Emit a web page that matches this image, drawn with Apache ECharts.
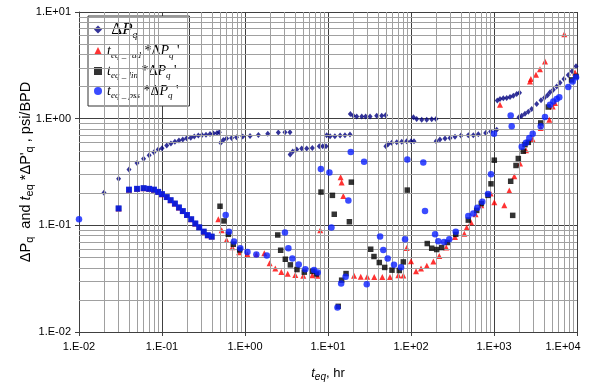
<!DOCTYPE html>
<html><head><meta charset="utf-8">
<script src="https://cdn.jsdelivr.net/npm/echarts@6/dist/echarts.min.js"></script>
<style>html,body{margin:0;padding:0;background:#fff}#c{width:595px;height:387px}</style>
</head><body><div id="c"></div>
<script>
// ---- data (t_eq in hr, value in psi/BPD) ----
const seriesNames = ['dPq', 'rad', 'lin', 'pss'];

const dPq = [
 [0.02,0.202],[0.03,0.273],[0.04,0.334],[0.05,0.385],[0.06,0.42],[0.07,0.454],[0.08,0.484],[0.09,0.513],[0.1,0.528],[0.114,0.56],[0.128,0.584],[0.143,0.606],[0.16,0.623],[0.178,0.637],[0.198,0.655],[0.222,0.664],[0.245,0.679],[0.274,0.694],[0.303,0.704],[0.339,0.708],[0.379,0.719],[0.417,0.727],[0.46,0.735],[0.49,0.745],
 [0.51,0.593],[0.548,0.63],[0.6,0.65],[0.69,0.66],[0.79,0.671],[0.94,0.679],[1.15,0.689],[1.45,0.704],[1.88,0.724],[2.52,0.74],[3.03,0.745],[3.48,0.745],
 [3.5,0.461],[3.76,0.492],[4.2,0.513],[4.82,0.524],[5.54,0.524],[6.47,0.532],[7.85,0.551],[8.63,0.551],[9.46,0.551],
 [9.64,0.698],[10.6,0.683],[12.1,0.683],[14.0,0.694],[16.0,0.698],[18.4,0.709],
 [18.6,1.106],[20.2,1.067],[22.2,1.05],[25.5,1.05],[28.4,1.05],[32.1,1.05],[38.6,1.067],[44.4,1.067],[49.5,1.074],
 [49.8,0.551],[53.3,0.58],[58.5,0.593],[67.3,0.60],[77.3,0.606],[88.7,0.614],[100,0.614],[108.7,0.614],
 [107,1.03],[117,0.994],[134.6,0.979],[154.6,0.979],[177.6,0.985],[200,0.994],
 [201,0.614],[223,0.637],[257,0.65],[295,0.66],[339,0.675],[400,0.694],[490,0.698],[563,0.698],[647,0.713],[794,0.735],[912,0.76],[1079,0.789],
 [1096,1.48],[1181,1.53],[1295,1.55],[1422,1.56],[1560,1.6],[1710,1.64],[1877,1.70],[2030,1.75],
 [2000,1.03],[2158,1.067],[2362,1.11],[2589,1.16],[2845,1.23],[3267,1.37],[3683,1.49],[4057,1.57],[4416,1.66],[4730,1.77],[5180,1.87],[5690,2.0],[6240,2.17],[6970,2.36],[7850,2.56],[8710,2.78],[9730,3.1]
];

// early-time points shared by the three derivative series
const earlyPts = [
 [0.03,0.144],[0.04,0.216],[0.05,0.22],[0.06,0.223],[0.07,0.22],[0.08,0.216],[0.09,0.206],[0.1,0.196],[0.114,0.184],[0.127,0.172],[0.143,0.16],[0.16,0.147],[0.178,0.136],[0.2,0.125],[0.225,0.114],[0.252,0.104],[0.281,0.0958],[0.318,0.0873],[0.356,0.0807],[0.397,0.0784]
];

const radPts = [
 [0.477,0.114],[0.524,0.0898],[0.6,0.073],[0.703,0.0623],[0.85,0.056],[1.07,0.0536],[1.37,0.053],[1.71,0.0547],[1.98,0.0442],[2.32,0.0394],[2.74,0.0366],[3.27,0.0351],[4.04,0.0343],[5.04,0.0336],[6.47,0.034],[7.43,0.0336],
 [8.07,0.0898],[14.2,0.283],[14.6,0.252],[15.3,0.188],
 [20.6,0.0336],[24.8,0.033],[29.7,0.033],[36.1,0.0327],[45.1,0.0328],[55.8,0.0328],[70.3,0.034],[80.8,0.0339],[88.7,0.0614],[100,0.0461],[115,0.0372],[132,0.0394],[155,0.0417],[186,0.0457],[219,0.0517],[266,0.0619],[339,0.0778],[439,0.0836],[469,0.0952],[528,0.107],[600,0.127],[703,0.154],[912,0.199],[1008,0.165],[1181,1.35],[1331,0.154],[1528,0.212],[1756,0.289],[2057,0.380],[2430,0.505],[2716,2.23],[2780,2.35],[2926,0.637],[3208,2.58],[3580,2.91],[3655,0.818],[4113,3.43],[4636,0.979],[5093,1.30],[5433,1.40],[7030,6.19],[9480,2.71]
];

const linPts = [
 [0.5,0.151],[0.558,0.110],[0.63,0.0824],[0.723,0.0665],[0.863,0.0588],
 [2.48,0.0812],[2.69,0.0584],[3.06,0.0481],[3.52,0.0426],[4.23,0.0385],[5.18,0.0364],[6.54,0.037],[7.3,0.035],
 [8.24,0.205],[11.3,0.191],[11.9,0.127],[13.3,0.0174],[14.6,0.0306],[16.5,0.0353],[18.1,0.108],[19.1,0.254],
 [32.7,0.0597],[35.8,0.051],[41.5,0.0448],[48.2,0.0403],[59.0,0.038],[72.3,0.0377],[80.8,0.0454],[90.2,0.214],
 [157,0.0675],[177.6,0.061],[204,0.0593],[234,0.0619],[274,0.069],[346,0.0824],[490,0.112],[619,0.138],[703,0.160],[847,0.191],[920,0.245],[1008,0.408],[1589,0.259],[1680,0.124],[1841,0.364],[1963,0.423],[2254,0.495],[2362,0.571],[2590,0.60],[3655,0.912],[4510,1.286],[8600,2.31],[9730,2.49]
];

const pssPts = [
 [0.01,0.114],
 [0.585,0.125],[0.641,0.0873],[0.737,0.0705],[0.878,0.061],[1.07,0.0563],[1.37,0.0532],[1.83,0.0521],
 [3.03,0.0855],[3.33,0.061],[3.72,0.0489],[4.44,0.043],[5.33,0.0387],[6.78,0.0382],[7.51,0.0361],
 [8.2,0.338],[10.4,0.313],[11.0,0.0952],[13.0,0.017],[14.4,0.0285],[16.3,0.033],[17.6,0.171],[18.8,0.488],[27.2,0.394],[29.3,0.0281],[42.4,0.0784],[46.4,0.0588],[52.4,0.0489],[62.4,0.0426],[75.8,0.0405],[84.7,0.074],[90.2,0.414],[140.6,0.388],[147.5,0.136],
 [195,0.0824],[213,0.0709],[250,0.0698],[289,0.074],[346,0.0873],[490,0.122],[563,0.129],[629,0.146],[723,0.166],[847,0.197],[920,0.302],[1000,0.724],[1589,1.07],[1634,0.847],[2157,0.544],[2430,0.593],[2663,0.66],[2926,0.724],[3655,0.847],[4113,1.037],[4730,1.35],[5180,1.45],[5690,1.53],[6120,1.59],[7850,1.98],[8870,2.23],[9730,2.45]
];

const xDecades = [-2, -1, 0, 1, 2, 3, 4];
const yDecades = [-2, -1, 0, 1];

// ---- build ----
function expLabel(v) {
  const e = Math.round(Math.log10(v));
  return '1.E' + (e < 0 ? '-' : '+') + String(Math.abs(e)).padStart(2, '0');
}
function minorVals(decs) {
  const out = [];
  for (let i = 0; i < decs.length - 1; i++)
    for (let m = 2; m <= 9; m++) out.push(+(m * Math.pow(10, decs[i])).toPrecision(3));
  return out;
}
const serif = '"Liberation Serif","Times New Roman",serif';
const sans = '"Liberation Sans",Arial,sans-serif';
const legRich = {
  n: {fontFamily: serif, fontSize: 14, color: '#000'},
  i: {fontFamily: serif, fontSize: 14, fontStyle: 'italic', color: '#000'},
  s: {fontFamily: serif, fontSize: 9, fontStyle: 'italic', color: '#000', padding: [9, 0, 0, 0]},
  b: {fontFamily: serif, fontSize: 17, fontStyle: 'italic', color: '#000'},
  bn: {fontFamily: serif, fontSize: 17, color: '#000'},
  bs: {fontFamily: serif, fontSize: 10, fontStyle: 'italic', color: '#000', padding: [11, 0, 0, 0]}
};
const legendText = {
  dPq: '{bn| Δ}{b|P}{bs|q}',
  rad: '{i|t}{s|eq _ rad}{n| *Δ}{i|P}{s|q}{n| \'}',
  lin: '{i|t}{s|eq _ lin}{n| *Δ}{i|P}{s|q}{n| \'}',
  pss: '{i|t}{s|eq _ pss}{n| *Δ}{i|P}{s|q}{n| \'}'
};

const chart = echarts.init(document.getElementById('c'), null, {renderer: 'canvas'});
const toItems = (arr) => arr.map(p => ({value: p}));
chart.setOption({
  animation: false,
  backgroundColor: '#fff',
  grid: {left: 79, right: 18, top: 12, bottom: 54},
  legend: {
    orient: 'vertical', left: 88, top: 16,
    padding: [5, 10, 6, 6], itemGap: 4, itemWidth: 8, itemHeight: 8,
    backgroundColor: '#fff', borderColor: '#333', borderWidth: 1,
    data: seriesNames,
    formatter: name => legendText[name],
    textStyle: {rich: legRich}
  },
  xAxis: {
    type: 'log', logBase: 10, min: 0.01, max: 10000, splitNumber: 6,
    axisLine: {show: true, lineStyle: {color: '#404040', width: 1}},
    axisTick: {show: true, length: 4, lineStyle: {color: '#404040'}},
    axisLabel: {
      color: '#000', fontFamily: sans, fontSize: 11, margin: 9,
      formatter: v => (Math.round(Math.log10(v)) === xDecades[xDecades.length - 1]) ? '{r|' + expLabel(v) + '}' : expLabel(v),
      rich: {r: {color: '#000', fontFamily: sans, fontSize: 11, padding: [0, 28, 0, 0]}}
    },
    splitLine: {show: true, lineStyle: {color: '#404040', width: 1}},
    name: '{i|t}{s|eq}{n|, hr}', nameLocation: 'middle', nameGap: 32, nameMoveOverlap: false,
    nameTextStyle: {rich: {
      i: {fontFamily: sans, fontSize: 13, fontStyle: 'italic', color: '#000'},
      s: {fontFamily: sans, fontSize: 10, fontStyle: 'italic', color: '#000', padding: [8, 0, 0, 0]},
      n: {fontFamily: sans, fontSize: 13, color: '#000'}
    }}
  },
  yAxis: {
    type: 'log', logBase: 10, min: 0.01, max: 10, splitNumber: 3,
    axisLine: {show: true, lineStyle: {color: '#404040', width: 1}},
    axisTick: {show: true, length: 4, lineStyle: {color: '#404040'}},
    axisLabel: {color: '#000', fontFamily: sans, fontSize: 11, margin: 8, formatter: expLabel},
    splitLine: {show: true, lineStyle: {color: '#404040', width: 1}},
    name: '{n|ΔP}{s|q}{n|  and }{i|t}{s|eq}{n| *ΔP\'}{s|q}{n| , psi/BPD}',
    nameLocation: 'middle', nameGap: 44, nameRotate: 90, nameMoveOverlap: false,
    nameTextStyle: {rich: {
      i: {fontFamily: sans, fontSize: 14.5, fontStyle: 'italic', color: '#000'},
      s: {fontFamily: sans, fontSize: 11, color: '#000', padding: [8, 0, 0, 0]},
      n: {fontFamily: sans, fontSize: 14.5, color: '#000'}
    }}
  },
  series: [
    {
      type: 'scatter', name: 'minor', data: [], z: 1, silent: true,
      markLine: {
        silent: true, symbol: ['none', 'none'], label: {show: false}, animation: false,
        lineStyle: {color: '#a0a0a0', width: 1, type: 'solid'},
        emphasis: {disabled: true},
        data: minorVals(xDecades).map(v => ({xAxis: v})).concat(minorVals(yDecades).map(v => ({yAxis: v})))
      }
    },
    {type: 'scatter', name: 'dPq', symbol: 'diamond', symbolSize: [5, 6], z: 3,
     itemStyle: {color: '#000080'}, data: dPq},
    {type: 'scatter', name: 'rad', symbol: 'triangle', symbolSize: 6, z: 4,
     itemStyle: {color: '#ff0000'}, data: earlyPts.concat(radPts)},
    {type: 'scatter', name: 'lin', symbol: 'rect', symbolSize: 5.5, z: 5,
     itemStyle: {color: '#000000'}, data: earlyPts.concat(linPts)},
    {type: 'scatter', name: 'pss', symbol: 'circle', symbolSize: 6.5, z: 6,
     itemStyle: {color: '#0a1fff'},
     data: toItems(earlyPts).map(d => Object.assign(d, {symbol: 'rect', symbolSize: 6})).concat(toItems(pssPts))}
  ]
});
</script></body></html>
